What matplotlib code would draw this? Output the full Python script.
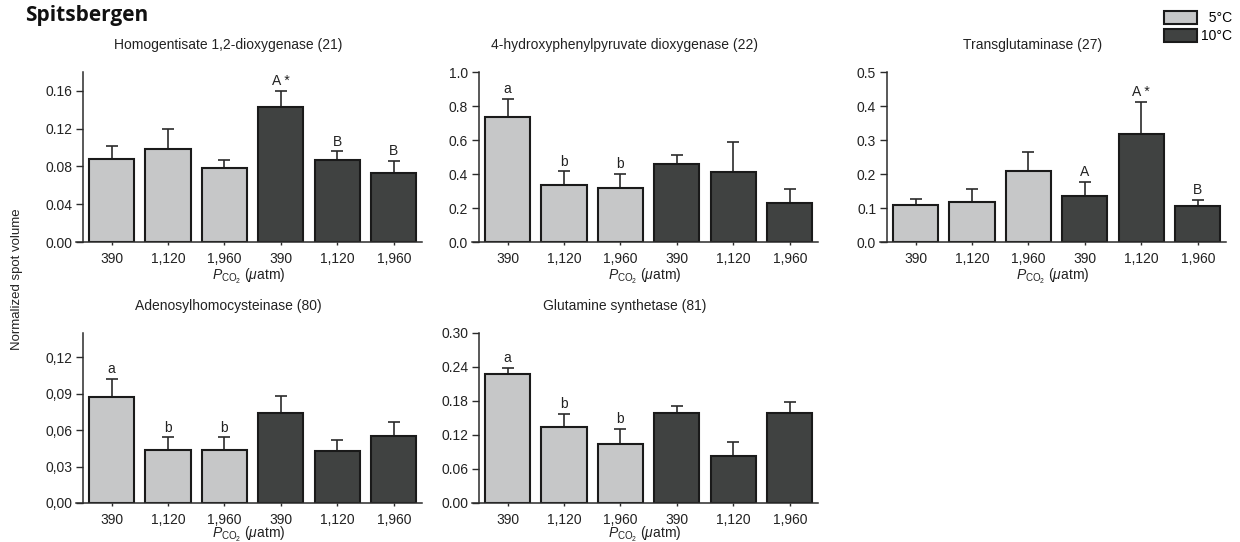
import numpy as np
import matplotlib.pyplot as plt
from matplotlib.patches import Patch

plt.rcParams["font.family"] = ["Liberation Sans", "DejaVu Sans"]
plt.rcParams["mathtext.fontset"] = "custom"
plt.rcParams["mathtext.rm"] = "Liberation Sans"
plt.rcParams["mathtext.it"] = "Liberation Sans:italic"

# -----------------------------
# Data
# -----------------------------
pco2_labels = ["390", "1,120", "1,960", "390", "1,120", "1,960"]
temps = ["5°C", "10°C"]

titles = [
    "Homogentisate 1,2-dioxygenase (21)",
    "4-hydroxyphenylpyruvate dioxygenase (22)",
    "Transglutaminase (27)",
    "Adenosylhomocysteinase (80)",
    "Glutamine synthetase (81)",
]

hgd_mean = [0.088, 0.098, 0.078, 0.143, 0.087, 0.073]
hgd_err = [0.014, 0.022, 0.009, 0.017, 0.009, 0.013]
hgd_sig = ["", "", "", "A *", "B", "B"]

hpd_mean = [0.734, 0.335, 0.319, 0.460, 0.413, 0.227]
hpd_err = [0.107, 0.080, 0.080, 0.053, 0.176, 0.084]
hpd_sig = ["a", "b", "b", "", "", ""]

tgm_mean = [0.110, 0.118, 0.209, 0.135, 0.318, 0.106]
tgm_err = [0.016, 0.038, 0.055, 0.042, 0.095, 0.018]
tgm_sig = ["", "", "", "A", "A *", "B"]

ahc_mean = [0.0875, 0.044, 0.044, 0.0743, 0.0429, 0.0553]
ahc_err = [0.0146, 0.010, 0.010, 0.0135, 0.0088, 0.0116]
ahc_sig = ["a", "b", "b", "", "", ""]

gs_mean = [0.227, 0.134, 0.105, 0.158, 0.0835, 0.158]
gs_err = [0.012, 0.023, 0.026, 0.014, 0.025, 0.020]
gs_sig = ["a", "b", "b", "", "", ""]

means = [hgd_mean, hpd_mean, tgm_mean, ahc_mean, gs_mean]
errs = [hgd_err, hpd_err, tgm_err, ahc_err, gs_err]
sigs = [hgd_sig, hpd_sig, tgm_sig, ahc_sig, gs_sig]

yticks = [
    [0.0, 0.04, 0.08, 0.12, 0.16],
    [0.0, 0.2, 0.4, 0.6, 0.8, 1.0],
    [0.0, 0.1, 0.2, 0.3, 0.4, 0.5],
    [0.0, 0.03, 0.06, 0.09, 0.12],
    [0.0, 0.06, 0.12, 0.18, 0.24, 0.30],
]
ytick_labels = [
    ["0.00", "0.04", "0.08", "0.12", "0.16"],
    ["0.0", "0.2", "0.4", "0.6", "0.8", "1.0"],
    ["0.0", "0.1", "0.2", "0.3", "0.4", "0.5"],
    ["0,00", "0,03", "0,06", "0,09", "0,12"],
    ["0.00", "0.06", "0.12", "0.18", "0.24", "0.30"],
]
ytops = [0.18, 1.0, 0.5, 0.14, 0.30]

# -----------------------------
# Layout (pixels in a 1240x542 figure)
# -----------------------------
W, H = 1240, 542
lefts = [76, 472, 880, 76, 472]
tops = [72, 72, 72, 333, 333]
AX_W, AX_H = 346, 170

light = "#c6c7c8"
dark = "#404241"
bar_colors = [light, light, light, dark, dark, dark]
line_col = "#2b2b2b"

fig = plt.figure(figsize=(W / 100, H / 100), dpi=100)

x = np.arange(len(pco2_labels))

for i in range(5):
    ax = fig.add_axes([lefts[i] / W, 1 - (tops[i] + AX_H) / H, AX_W / W, AX_H / H])

    ax.bar(x, means[i], width=0.8, color=bar_colors,
           edgecolor="#1a1a1a", linewidth=1.5, zorder=2)
    ax.errorbar(x, means[i], yerr=[np.zeros(6), errs[i]], fmt="none",
                ecolor=line_col, elinewidth=1.2, capsize=4.5,
                capthick=1.2, zorder=1)

    for xi, m, e, s in zip(x, means[i], errs[i], sigs[i]):
        if s:
            ax.annotate(s, (xi, m + e), xytext=(0, 2),
                        textcoords="offset points", ha="center",
                        va="bottom", fontsize=10, color="#222222")

    ax.set_xlim(-0.63, 5.5)
    ax.set_ylim(0, ytops[i])
    ax.set_yticks(yticks[i])
    ax.set_yticklabels(ytick_labels[i])
    ax.set_xticks(x)
    ax.set_xticklabels(pco2_labels)

    for side in ["top", "right"]:
        ax.spines[side].set_visible(False)
    ax.spines["left"].set_position(("data", -0.5))
    for side in ["left", "bottom"]:
        ax.spines[side].set_color(line_col)
        ax.spines[side].set_linewidth(1.1)

    ax.tick_params(axis="y", length=5, width=1.0, colors=line_col,
                   labelsize=10, labelcolor="#222222", pad=3)
    ax.tick_params(axis="x", length=2, width=1.0, colors=line_col,
                   labelsize=10, labelcolor="#222222", pad=5)

    ax.set_xlabel(r"$P_{\mathrm{CO}_2}$ ($\mu$atm)", fontsize=10,
                  color="#222222", labelpad=1 if i < 3 else -1)
    ax.text(0.44, 1.16, titles[i], transform=ax.transAxes, ha="center",
            va="center", fontsize=10, color="#222222")

fig.text(25 / W, 1 - 21 / H, "Spitsbergen", fontsize=15, fontweight="bold",
         family=["Open Sans", "DejaVu Sans"], ha="left", va="baseline",
         color="#111111")

fig.text(17 / W, 1 - 279 / H, "Normalized spot volume", rotation=90,
         ha="center", va="center", fontsize=9.5, color="#222222")

handles = [Patch(facecolor=light, edgecolor="#1a1a1a", linewidth=1.5),
           Patch(facecolor=dark, edgecolor="#1a1a1a", linewidth=1.5)]
fig.legend(handles, ["  " + temps[0], temps[1]], loc="upper right",
           bbox_to_anchor=(1232 / W, 1 - 11 / H), frameon=False,
           fontsize=10, handlelength=2.4, handleheight=1.05,
           handletextpad=0.25, labelspacing=0.25, borderpad=0,
           borderaxespad=0)

plt.savefig("out.png", dpi=100)
plt.close()
